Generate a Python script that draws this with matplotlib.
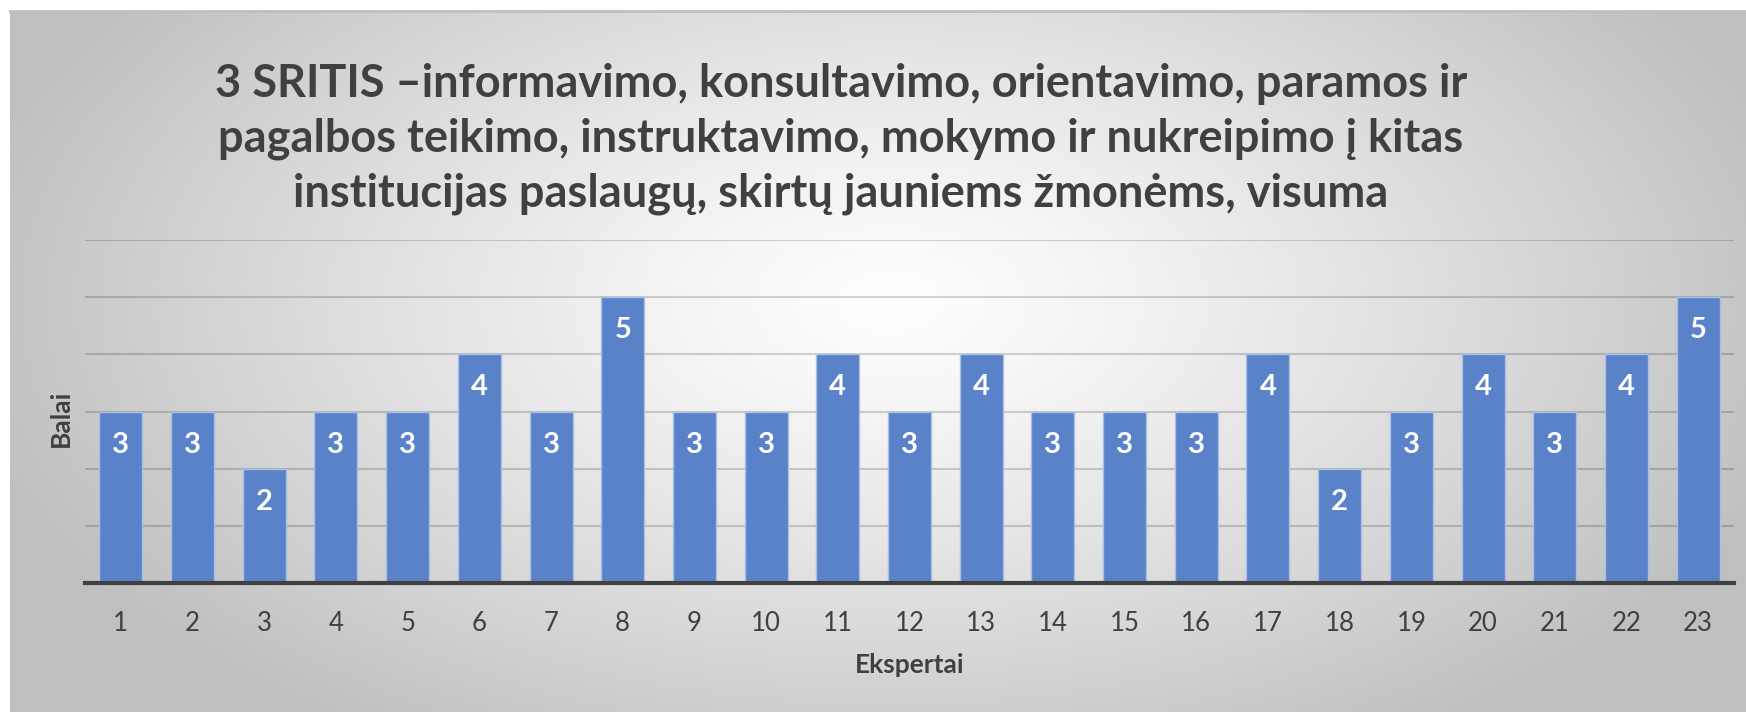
import numpy as np
import matplotlib
matplotlib.use('Agg')
import matplotlib.pyplot as plt

# data
experts = [str(i) for i in range(1, 24)]
scores = [3, 3, 2, 3, 3, 4, 3, 5, 3, 3, 4, 3, 4, 3, 3, 3, 4, 2, 3, 4, 3, 4, 5]
title_lines = [
    '3 SRITIS \u2013informavimo, konsultavimo, orientavimo, paramos ir',
    'pagalbos teikimo, instruktavimo, mokymo ir nukreipimo \u012f kitas',
    'institucijas paslaug\u0173, skirt\u0173 jauniems \u017emon\u0117ms, visuma',
]

plt.rcParams['font.family'] = ['Lato', 'DejaVu Sans']

W, H = 1746, 712
fig = plt.figure(figsize=(W / 100, H / 100), dpi=100)
fig.patch.set_facecolor('white')

# radial gradient background
bg = fig.add_axes([10 / W, 0, (W - 10) / W, (H - 12) / H])
bg.set_zorder(-5)
yy, xx = np.mgrid[0:700, 0:1736]
r = np.sqrt(((xx - 880) / 950.0) ** 2 + ((yy - 290) / 520.0) ** 2)
g = 1.0 - 0.25 * np.clip(r, 0, 1) ** 1.2
bg.imshow(np.dstack([g, g, g]), aspect='auto', interpolation='bilinear')
bg.axis('off')
fig.add_artist(plt.Line2D([10 / W, 1], [(H - 11) / H] * 2, color='#bfbfbf', lw=2))

ax = fig.add_axes([85 / W, (H - 583) / H, 1649 / W, 343 / H])
ax.patch.set_alpha(0)
x = np.arange(len(experts))
bars = ax.bar(x, scores, width=0.6, color='#5a82c8', edgecolor='#a8bfe6', linewidth=1, zorder=3)
for xi, v in zip(x, scores):
    ax.text(xi, v - 0.58, str(v), ha='center', va='center', color='white',
            fontsize=21, fontweight='bold', zorder=4)

ax.set_ylim(0, 6)
ax.set_xlim(-0.5, len(experts) - 0.5)
ax.set_yticks(range(1, 7))
ax.yaxis.grid(True, color='black', alpha=0.17, lw=1.5, zorder=0)
ax.tick_params(axis='y', left=False, labelleft=False)
ax.set_xticks(x)
ax.set_xticklabels(experts, fontsize=18.5, color='#404040')
ax.tick_params(axis='x', length=0, pad=20)
for s in ['top', 'right', 'left']:
    ax.spines[s].set_visible(False)
ax.spines['bottom'].set_color('#404040')
ax.spines['bottom'].set_linewidth(3)
ax.spines['bottom'].set_zorder(5)

fig.text(910 / W, 1 - 665 / H, 'Ekspertai', ha='center', va='center',
         fontsize=19, fontweight='bold', color='#404040')
fig.text(61 / W, 1 - 418 / H, 'Balai', ha='center', va='center', rotation=90,
         fontsize=19, fontweight='bold', color='#404040')

for i, line in enumerate(title_lines):
    fig.text(841 / W, 1 - (84 + 55 * i) / H, line, ha='center', va='center',
             fontsize=32.5, fontweight='bold', color='#404040')

fig.savefig('out.png', dpi=100)
